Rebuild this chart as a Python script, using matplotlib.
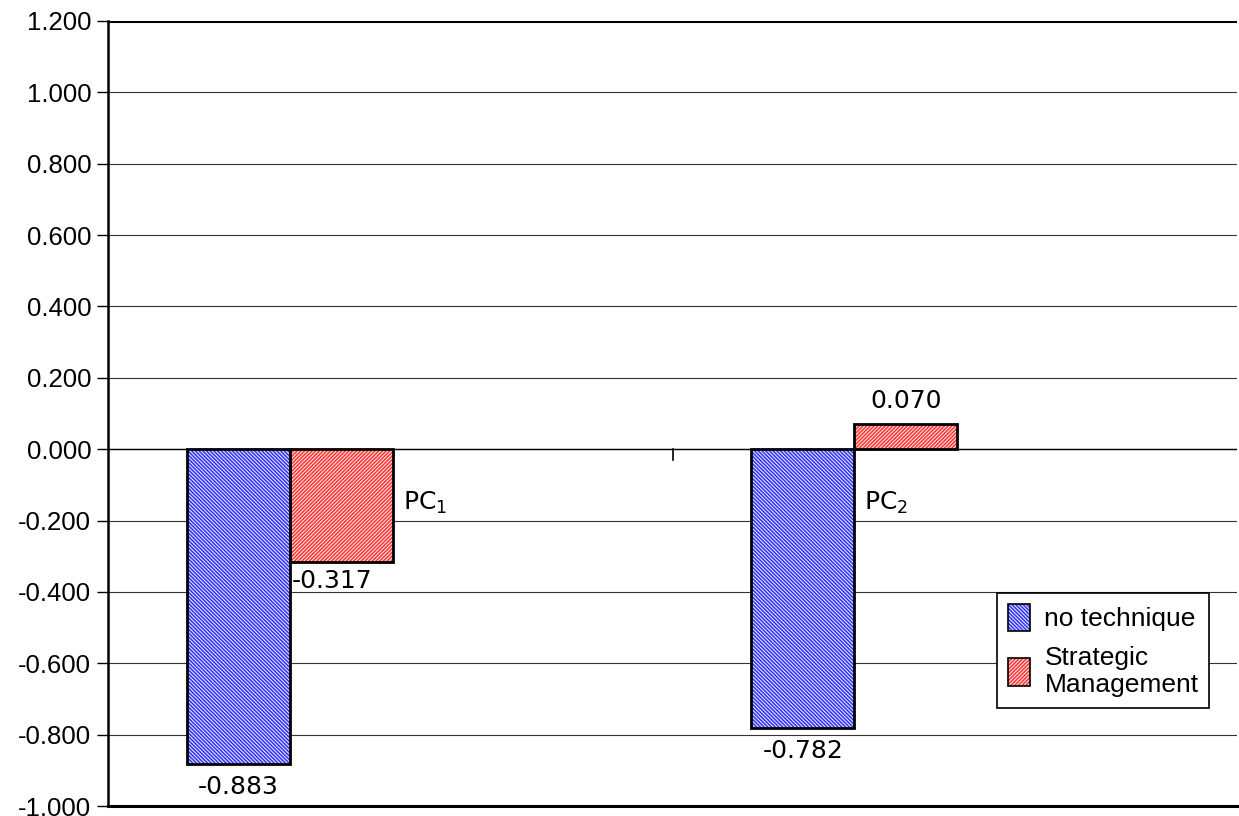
import matplotlib.pyplot as plt
import numpy as np
from matplotlib.patches import Patch

categories = ["PC$_1$", "PC$_2$"]
no_technique = [-0.883, -0.782]
strategic = [-0.317, 0.070]
series_names = ["no technique", "Strategic\nManagement"]
yticks = [-1.0, -0.8, -0.6, -0.4, -0.2, 0.0, 0.2, 0.4, 0.6, 0.8, 1.0, 1.2]

plt.rcParams["hatch.linewidth"] = 1.25
TICKFONT = "Liberation Sans"
LBLFONT = "DejaVu Sans"
BLUE_H, RED_H = "\\" * 9, "/" * 9
BLUE, RED = "#3a3aff", "#ff3a3a"

fig = plt.figure(figsize=(12.39, 8.16), dpi=100)
ax = fig.add_axes([108 / 1239, 10 / 816, 1129 / 1239, 785 / 816])

x = np.arange(len(categories))
w = 0.1825
xb = x - 0.178 - w / 2
xr = x - 0.178 + w / 2

# hatched fills first, outlines on top
ax.bar(xb, no_technique, w, color="white", edgecolor=BLUE, hatch=BLUE_H, lw=0, zorder=2)
ax.bar(xr, strategic, w, color="white", edgecolor=RED, hatch=RED_H, lw=0, zorder=2)
ax.bar(xb, no_technique, w, fill=False, edgecolor="black", lw=2, zorder=3)
ax.bar(xr, strategic, w, fill=False, edgecolor="black", lw=2, zorder=3)

for i in x:
    ax.text(xb[i], no_technique[i] - 0.03, f"{no_technique[i]:.3f}", ha="center", va="top",
            fontsize=18, family=LBLFONT)
    v = strategic[i]
    if v < 0:
        ax.text(xr[i] - w / 2 + 0.003, v - 0.02, f"{v:.3f}", ha="left", va="top", fontsize=18, family=LBLFONT)
    else:
        ax.text(xr[i], v + 0.03, f"{v:.3f}", ha="center", va="bottom", fontsize=18, family=LBLFONT)

# category labels sit beside the bar that crosses below zero
lbl_x = [xr[0] + w / 2 + 0.018, xb[1] + w / 2 + 0.018]
for i in x:
    ax.text(lbl_x[i], -0.15, categories[i], ha="left", va="center", fontsize=18, family=LBLFONT)

ax.set_xlim(-0.5, 1.5)
ax.set_ylim(-1.0, 1.2)
ax.set_yticks(yticks)
ax.set_yticklabels([f"{t:.3f}" for t in yticks], fontsize=18.5, family=TICKFONT)
ax.set_xticks([])
ax.grid(axis="y", color="#333333", lw=0.8, zorder=0)
ax.set_axisbelow(True)
ax.axhline(0, color="black", lw=1.0, zorder=1)
ax.plot([0.5, 0.5], [0, -0.03], color="black", lw=1.2, zorder=1)
ax.axhline(1.2, color="black", lw=2.2, zorder=1)
ax.tick_params(axis="y", length=8, width=1, direction="out", pad=4)
for s in ("top", "right"):
    ax.spines[s].set_visible(False)
ax.spines["left"].set_linewidth(1.8)
ax.spines["bottom"].set_linewidth(2.2)

handles = [(Patch(facecolor="white", edgecolor=BLUE, hatch=BLUE_H, lw=0),
            Patch(fill=False, edgecolor="black", lw=1.2)),
           (Patch(facecolor="white", edgecolor=RED, hatch=RED_H, lw=0),
            Patch(fill=False, edgecolor="black", lw=1.2))]
leg = ax.legend(handles, series_names, loc="upper left", bbox_to_anchor=((997 - 108) / 1129, (806 - 593) / 785),
                frameon=True, fancybox=False, edgecolor="black", framealpha=1,
                handlelength=0.85, handleheight=1.2, handletextpad=0.55, borderpad=0.4, labelspacing=0.55,
                borderaxespad=0, prop={"family": TICKFONT, "size": 19})
leg.get_frame().set_linewidth(1.2)

fig.savefig("out.png", dpi=100, facecolor="white")
